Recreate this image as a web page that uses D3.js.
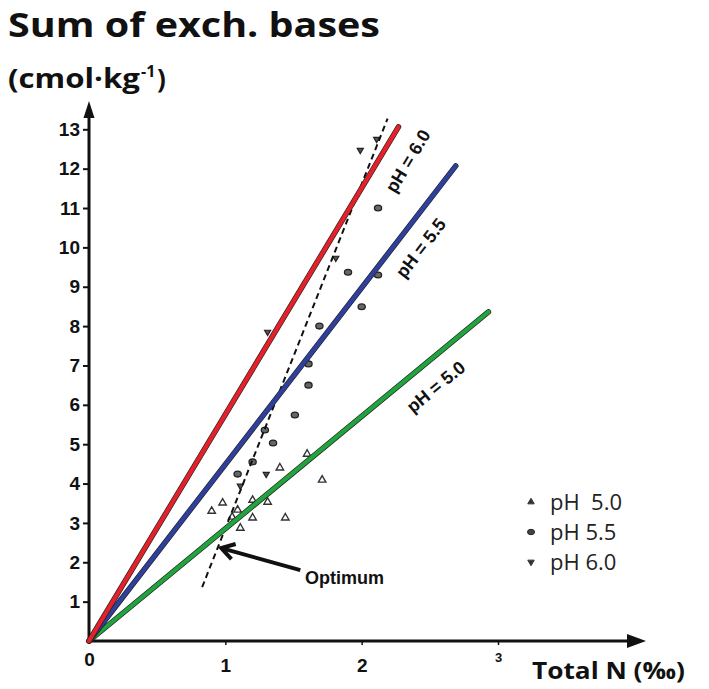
<!DOCTYPE html>
<html>
<head>
<meta charset="utf-8">
<script src="https://cdn.jsdelivr.net/npm/d3@7"></script>
<style>
  body { margin: 0; background: #fff; }
  svg { display: block; }
  .tick text { font-family: "Liberation Sans", Arial, sans-serif; font-weight: bold; fill: #111; }
  .bold { font-family: "Open Sans", sans-serif; font-weight: bold; fill: #111; }
  .lbl { font-family: "Liberation Sans", Arial, sans-serif; font-weight: bold; fill: #111; }
  .legend { font-family: "Open Sans", sans-serif; fill: #222; white-space: pre; }
</style>
</head>
<body>
<div id="chart"></div>
<script>
// Sum of exchangeable bases vs total N, by soil pH
const series = ["pH 5.0", "pH 5.5", "pH 6.0"];
const legendNames = ["pH\u00a0 5.0", "pH 5.5", "pH 6.0"];
const lineColors = ["#21a33e", "#2f3f9c", "#e4212b"];
const lineEndX = [2.93, 2.69, 2.27];
const lineEndY = [8.36, 12.07, 13.06];
const lineLabels = ["pH = 5.0", "pH = 5.5", "pH = 6.0"];
const labelX = [2.545, 2.435, 2.34];
const labelY = [6.45, 9.98, 12.19];

const pointsPh50 = [
  [0.98, 3.51], [0.90, 3.30], [1.09, 3.33], [1.20, 3.58], [1.31, 3.53], [1.05, 3.15],
  [1.20, 3.13], [1.44, 3.13], [1.11, 2.87], [1.40, 4.40], [1.71, 4.09], [1.60, 4.75]
];
const pointsPh55 = [
  [1.51, 5.74], [1.29, 5.36], [1.35, 5.03], [1.61, 6.50], [1.61, 7.04], [1.69, 8.00],
  [2.00, 8.49], [1.90, 9.37], [2.12, 9.30], [2.12, 11.00], [1.09, 4.24], [1.20, 4.55]
];
const pointsPh60 = [
  [1.31, 7.85], [1.99, 12.47], [2.11, 12.75], [1.81, 9.73], [1.30, 4.24], [1.11, 3.94]
];

const optimumX = [0.83, 2.19];
const optimumY = [1.37, 13.27];
const optimumArrowFrom = [1.55, 1.80];
const optimumArrowTo = [0.97, 2.36];

const xTickValues = [0, 1, 2, 3];
const yTickValues = [1, 2, 3, 4, 5, 6, 7, 8, 9, 10, 11, 12, 13];

(function() {
  const width = 709, height = 689;
  const svg = d3.select("#chart").append("svg")
    .attr("width", width).attr("height", height);

  const x = d3.scaleLinear().domain([0, 3]).range([89, 498]);
  const y = d3.scaleLinear().domain([0, 13]).range([641, 129.3]);

  // titles
  svg.append("text").attr("class", "bold")
    .attr("x", 8).attr("y", 37)
    .attr("font-size", 34)
    .attr("textLength", 372).attr("lengthAdjust", "spacingAndGlyphs")
    .text("Sum of exch. bases");

  svg.append("text").attr("class", "bold")
    .attr("x", 8).attr("y", 88).attr("font-size", 26)
    .attr("textLength", 132).attr("lengthAdjust", "spacingAndGlyphs")
    .text("(cmol\u00b7kg");
  svg.append("text").attr("class", "bold")
    .attr("x", 141).attr("y", 77).attr("font-size", 16)
    .text("-1");
  svg.append("text").attr("class", "bold")
    .attr("x", 157).attr("y", 88).attr("font-size", 26)
    .text(")");

  // y axis
  const yAxis = svg.append("g")
    .attr("transform", `translate(${x(0)},0)`)
    .call(d3.axisLeft(y).tickValues(yTickValues).tickSize(6).tickPadding(3));
  yAxis.select(".domain").remove();
  yAxis.selectAll(".tick line").attr("stroke", "#111").attr("stroke-width", 2);
  yAxis.selectAll(".tick text").attr("font-size", 19);

  svg.append("line")
    .attr("x1", x(0)).attr("x2", x(0))
    .attr("y1", y(0) + 1).attr("y2", 112)
    .attr("stroke", "#111").attr("stroke-width", 3);
  svg.append("path")
    .attr("d", `M${x(0)},101 L${x(0) - 5.5},118 L${x(0) + 5.5},118 Z`)
    .attr("fill", "#111");

  // x axis
  const xAxis = svg.append("g")
    .attr("transform", `translate(0,${y(0)})`)
    .call(d3.axisBottom(x).tickValues(xTickValues).tickFormat(d3.format("d"))
      .tickSize(4).tickPadding(9));
  xAxis.select(".domain").remove();
  xAxis.selectAll(".tick line").attr("stroke", "#111").attr("stroke-width", 1.5);
  xAxis.selectAll(".tick text")
    .attr("font-size", d => d === 3 ? 13 : 19)
    .attr("dy", d => d === 3 ? "0.6em" : (d === 0 ? "0.65em" : "0.95em"));
  xAxis.selectAll(".tick").filter(d => d === 0).select("line").remove();

  svg.append("line")
    .attr("x1", x(0) - 1).attr("x2", 630)
    .attr("y1", y(0)).attr("y2", y(0))
    .attr("stroke", "#111").attr("stroke-width", 3);
  svg.append("path")
    .attr("d", `M646,${y(0)} L627,${y(0) - 7} L627,${y(0) + 7} Z`)
    .attr("fill", "#111");

  svg.append("text").attr("class", "bold")
    .attr("x", 532).attr("y", 679).attr("font-size", 24)
    .attr("textLength", 153).attr("lengthAdjust", "spacingAndGlyphs")
    .text("Total N (\u2030)");

  // scatter points
  const tri = d3.symbol().type(d3.symbolTriangle).size(24);
  const triSmall = d3.symbol().type(d3.symbolTriangle).size(16);
  svg.append("g").selectAll("path")
    .data(pointsPh50).join("path")
    .attr("d", tri)
    .attr("transform", d => `translate(${x(d[0])},${y(d[1])})`)
    .attr("fill", "#fff").attr("stroke", "#333").attr("stroke-width", 1.4);

  svg.append("g").selectAll("ellipse")
    .data(pointsPh55).join("ellipse")
    .attr("cx", d => x(d[0])).attr("cy", d => y(d[1]))
    .attr("rx", 3.6).attr("ry", 2.9)
    .attr("fill", "#666").attr("stroke", "#222").attr("stroke-width", 1.3);

  svg.append("g").selectAll("path")
    .data(pointsPh60).join("path")
    .attr("d", triSmall)
    .attr("transform", d => `translate(${x(d[0])},${y(d[1])}) rotate(180)`)
    .attr("fill", "#555").attr("stroke", "#222").attr("stroke-width", 1.2);

  // optimum dashed line
  svg.append("line")
    .attr("x1", x(optimumX[0])).attr("y1", y(optimumY[0]))
    .attr("x2", x(optimumX[1])).attr("y2", y(optimumY[1]))
    .attr("stroke", "#111").attr("stroke-width", 2)
    .attr("stroke-dasharray", "6,4");

  // fitted lines through origin
  const line = d3.line().x(d => x(d[0])).y(d => y(d[1]));
  series.forEach((s, i) => {
    const pts = [[0, 0], [lineEndX[i], lineEndY[i]]];
    svg.append("path")
      .attr("d", line(pts))
      .attr("fill", "none")
      .attr("stroke", "#222").attr("stroke-width", 5.5)
      .attr("stroke-linecap", "round");
    svg.append("path")
      .attr("d", line(pts))
      .attr("fill", "none")
      .attr("stroke", lineColors[i]).attr("stroke-width", 4.2)
      .attr("stroke-linecap", "round");

    const ang = Math.atan2(y(lineEndY[i]) - y(0), x(lineEndX[i]) - x(0)) * 180 / Math.PI;
    svg.append("text").attr("class", "lbl")
      .attr("font-size", 18)
      .attr("text-anchor", "middle")
      .attr("dominant-baseline", "central")
      .attr("transform", `translate(${x(labelX[i])},${y(labelY[i])}) rotate(${ang})`)
      .text(lineLabels[i]);
  });

  // optimum arrow + label
  const ax0 = x(optimumArrowFrom[0]), ay0 = y(optimumArrowFrom[1]);
  const ax1 = x(optimumArrowTo[0]), ay1 = y(optimumArrowTo[1]);
  const a = Math.atan2(ay0 - ay1, ax0 - ax1);
  const headLen = 15, spread = 0.55;
  svg.append("line")
    .attr("x1", ax0).attr("y1", ay0).attr("x2", ax1 + 2 * Math.cos(a)).attr("y2", ay1 + 2 * Math.sin(a))
    .attr("stroke", "#111").attr("stroke-width", 4);
  svg.append("path")
    .attr("d", `M${ax1 + headLen * Math.cos(a - spread)},${ay1 + headLen * Math.sin(a - spread)} L${ax1},${ay1} L${ax1 + headLen * Math.cos(a + spread)},${ay1 + headLen * Math.sin(a + spread)}`)
    .attr("fill", "none").attr("stroke", "#111").attr("stroke-width", 4)
    .attr("stroke-linejoin", "miter");
  svg.append("text").attr("class", "lbl")
    .attr("x", 305).attr("y", 584).attr("font-size", 18)
    .text("Optimum");

  // legend
  const legendY = [502, 532, 562];
  const lg = svg.append("g");
  series.forEach((s, i) => {
    const row = lg.append("g").attr("transform", `translate(531,${legendY[i]})`);
    if (i === 1) {
      row.append("ellipse").attr("rx", 3.5).attr("ry", 2.7)
        .attr("fill", "#444").attr("stroke", "#222");
    } else {
      row.append("path")
        .attr("d", d3.symbol().type(d3.symbolTriangle).size(18))
        .attr("transform", i === 2 ? "rotate(180)" : null)
        .attr("fill", "#333").attr("stroke", "#333");
    }
    row.append("text").attr("class", "legend")
      .attr("x", 19).attr("y", 0).attr("dy", "0.36em")
      .attr("font-size", 22)
      .text(legendNames[i]);
  });
})();
</script>
</body>
</html>
